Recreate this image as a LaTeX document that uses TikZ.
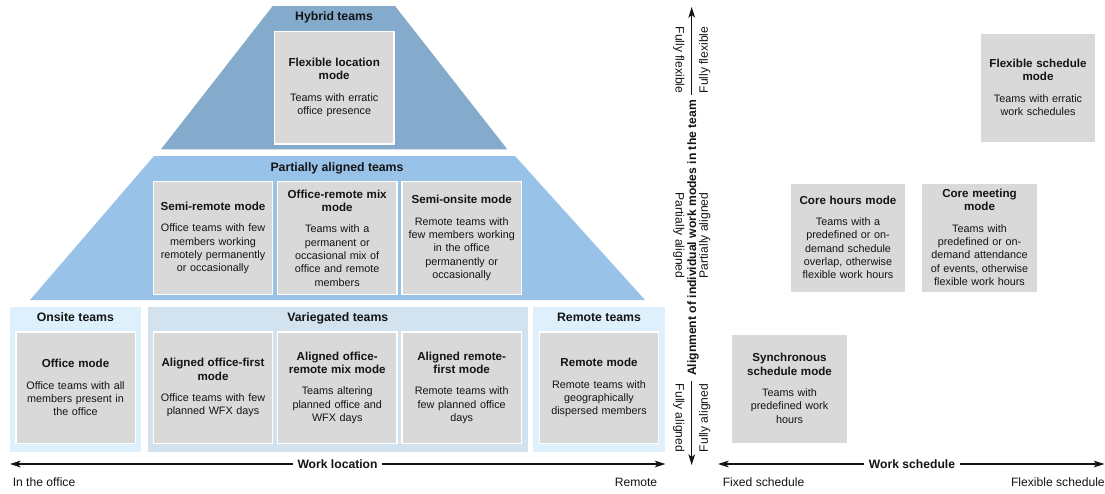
\documentclass[tikz,border=0pt]{standalone}
\usepackage{fontspec}
\setmainfont{Liberation Sans}
\usetikzlibrary{arrows.meta}

\definecolor{hybridfill}{HTML}{84AACC}
\definecolor{partialfill}{HTML}{99C2E8}
\definecolor{panelfill}{HTML}{DDF0FC}
\definecolor{variegfill}{HTML}{D2E2EF}
\definecolor{modefill}{HTML}{D9D9D9}
\definecolor{inkcol}{HTML}{141414}

\newcommand\bodysize{\normalfont\fontsize{8.1pt}{10pt}\selectfont}
\newcommand\titlesize{\fontsize{8.7pt}{10pt}\selectfont\bfseries}

\tikzset{
  modebox/.style={fill=modefill, draw=white, line width=1pt, inner xsep=1pt,
    inner ysep=2pt, align=center, font=\bodysize, text=inkcol},
  pyrbox/.style={modebox, minimum width=89.5pt, minimum height=84.5pt, text width=87pt},
  rowbox/.style={modebox, minimum width=89.5pt, minimum height=83.5pt, text width=87pt},
  schedbox/.style={modebox, minimum width=87pt, minimum height=82pt, text width=85pt},
  teamhead/.style={font=\fontsize{9.2pt}{11pt}\selectfont\bfseries, text=inkcol,
    inner sep=0pt, text height=1.5ex, text depth=0.25ex},
  axisline/.style={draw=inkcol, line width=1pt, {Stealth[length=8pt,width=5pt,inset=2pt]}-{Stealth[length=8pt,width=5pt,inset=2pt]}},
  axistitle/.style={font=\fontsize{9.1pt}{11pt}\selectfont\bfseries, text=inkcol,
    fill=white, inner xsep=3.5pt, inner ysep=1pt, text height=1.5ex, text depth=0.25ex},
  endlabel/.style={font=\fontsize{9.1pt}{11pt}\selectfont, text=inkcol,
    inner sep=0pt, text height=1.5ex, text depth=0.25ex},
}

\begin{document}
\begin{tikzpicture}[x=0.75pt, y=-0.75pt]
\useasboundingbox (0,0) rectangle (1105,493);

% --- work location: pyramid of team types ---
\fill[hybridfill] (272.7,6) -- (395,6) -- (507.3,149.3) -- (161,149.3) -- cycle;
\fill[partialfill] (154,156) -- (515,156) -- (645,300) -- (30,300) -- cycle;
\fill[panelfill] (10,306.7) rectangle (140.7,451.7);
\fill[variegfill] (147.7,306.7) rectangle (528,451.7);
\fill[panelfill] (533,306.7) rectangle (665,451.7);

\node[teamhead] (hybridT) at (334,16) {Hybrid teams};
\node[teamhead] (partialT) at (337,166.7) {Partially aligned teams};
\node[teamhead] (onsiteT) at (75.4,317.3) {Onsite teams};
\node[teamhead] (variegT) at (337.8,317.3) {Variegated teams};
\node[teamhead] (remoteT) at (599,317.3) {Remote teams};

\node[pyrbox] (flexloc) at (334.2,87.5)
  {\titlesize Flexible location\\mode\\[6pt]\bodysize Teams with erratic\\office presence};

\node[pyrbox] (semirem) at (213,238)
  {\titlesize Semi-remote mode\\[6pt]\bodysize Office teams with few\\members working\\remotely permanently\\or occasionally};
\node[pyrbox] (offremmix) at (337.2,238)
  {\titlesize Office-remote mix\\mode\\[6pt]\bodysize Teams with a\\permanent or\\occasional mix of\\office and remote\\members};
\node[pyrbox] (semions) at (461.7,238)
  {\titlesize Semi-onsite mode\\[6pt]\bodysize Remote teams with\\few members working\\in the office\\permanently or\\occasionally};

\node[rowbox] (office) at (75.5,387.8)
  {\titlesize Office mode\\[6pt]\bodysize Office teams with all\\members present in\\the office};
\node[rowbox] (alofffirst) at (213,387.8)
  {\titlesize Aligned office-first\\mode\\[6pt]\bodysize Office teams with few\\planned WFX days};
\node[rowbox] (aloffmix) at (337.2,387.8)
  {\titlesize Aligned office-\\remote mix mode\\[6pt]\bodysize Teams altering\\planned office and\\WFX days};
\node[rowbox] (alremfirst) at (461.7,387.8)
  {\titlesize Aligned remote-\\first mode\\[6pt]\bodysize Remote teams with\\few planned office\\days};
\node[rowbox] (remote) at (599,387.8)
  {\titlesize Remote mode\\[6pt]\bodysize Remote teams with\\geographically\\dispersed members};

% --- work schedule modes ---
\node[schedbox] (flexsched) at (1038,87.5)
  {\titlesize Flexible schedule\\mode\\[6pt]\bodysize Teams with erratic\\work schedules};
\node[schedbox] (corehours) at (848,237.5)
  {\titlesize Core hours mode\\[6pt]\bodysize Teams with a\\predefined or on-\\demand schedule\\overlap, otherwise\\flexible work hours};
\node[schedbox] (coremeet) at (979.5,237.5)
  {\titlesize Core meeting\\mode\\[6pt]\bodysize Teams with\\predefined or on-\\demand attendance\\of events, otherwise\\flexible work hours};
\node[schedbox] (syncsched) at (789.5,388.5)
  {\titlesize Synchronous\\schedule mode\\[6pt]\bodysize Teams with\\predefined work\\hours};

% --- axes ---
\coordinate (locW) at (10,464);
\coordinate (locE) at (665.5,464);
\coordinate (schW) at (718,464);
\coordinate (schE) at (1104.5,464);
\coordinate (alnTop) at (691.7,7);
\coordinate (alnBot) at (691.7,465);

\draw[axisline] (locW) -- (locE);
\draw[axisline] (schW) -- (schE);
\draw[axisline] (alnBot) -- (alnTop);

\node[axistitle] (locT) at (337.5,464) {Work location};
\node[axistitle] (schT) at (912,464) {Work schedule};
\node[axistitle, rotate=90] (alnT) at (691.7,238) {Alignment of individual work modes in the team};

\node[endlabel, anchor=west] (inoffice) at (12.5,482) {In the office};
\node[endlabel, anchor=east] (remoteend) at (657.5,482) {Remote};
\node[endlabel, anchor=west] (fixedend) at (722.5,482) {Fixed schedule};
\node[endlabel, anchor=east] (flexend) at (1105,482) {Flexible schedule};

\node[endlabel, rotate=-90] (ffL) at (680,60) {Fully flexible};
\node[endlabel, rotate=90] (ffR) at (703.5,60) {Fully flexible};
\node[endlabel, rotate=-90] (paL) at (680,235.5) {Partially aligned};
\node[endlabel, rotate=90] (paR) at (703.5,235.5) {Partially aligned};
\node[endlabel, rotate=-90] (faL) at (680,418) {Fully aligned};
\node[endlabel, rotate=90] (faR) at (703.5,418) {Fully aligned};
\end{tikzpicture}
\end{document}
